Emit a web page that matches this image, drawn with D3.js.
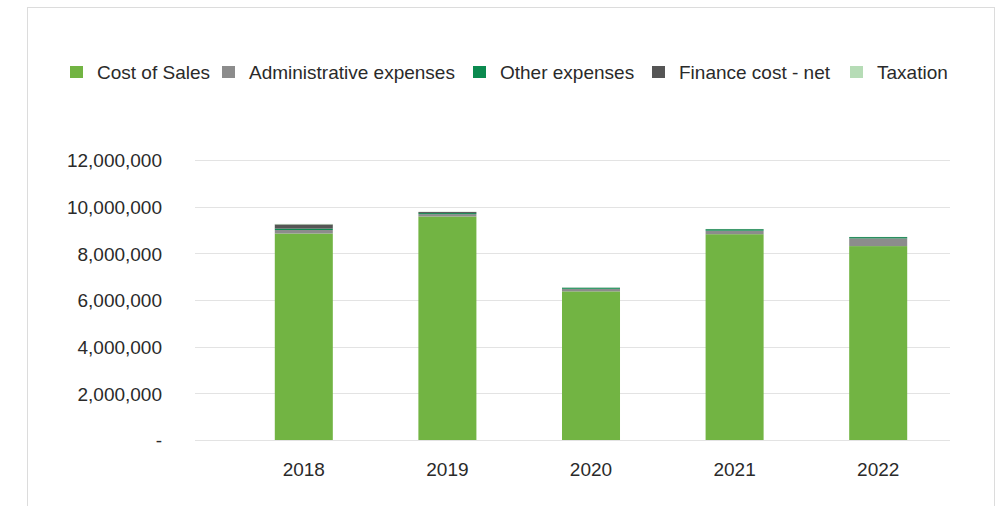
<!DOCTYPE html>
<html>
<head>
<meta charset="utf-8">
<script src="https://cdn.jsdelivr.net/npm/d3@7/dist/d3.min.js"></script>
<style>
  html, body { margin: 0; padding: 0; background: #fff; }
  svg { display: block; font-family: "Liberation Sans", Arial, Helvetica, sans-serif; }
</style>
</head>
<body>
<svg id="chart" width="1000" height="506"></svg>
<script>
// Expense breakdown by year (stacked, bottom to top)
const years = ["2018", "2019", "2020", "2021", "2022"];
const seriesNames = ["Cost of Sales", "Administrative expenses", "Other expenses", "Finance cost - net", "Taxation"];
const costOfSales = [8850000, 9580000, 6370000, 8820000, 8310000];
const adminExpenses = [150000, 100000, 110000, 150000, 330000];
const otherExpenses = [60000, 45000, 45000, 65000, 55000];
const financeCost = [180000, 45000, 5000, 5000, 5000];
const taxation = [20000, 15000, 5000, 5000, 5000];
const yTicks = [0, 2000000, 4000000, 6000000, 8000000, 10000000, 12000000];
const colors = ["#72b443", "#8c8c8c", "#0b8a4f", "#555555", "#b6dcb6"];

const seriesValues = [costOfSales, adminExpenses, otherExpenses, financeCost, taxation];
const rows = years.map((yr, i) => {
  const r = { year: yr };
  seriesNames.forEach((s, k) => { r[s] = seriesValues[k][i]; });
  return r;
});

const svg = d3.select("#chart");

// outer frame
svg.append("rect")
  .attr("x", 27.5).attr("y", 7.5)
  .attr("width", 967).attr("height", 520)
  .attr("fill", "none").attr("stroke", "#dcdcdc");

const gridLeft = 195, plotLeft = 232, plotRight = 950;
const y = d3.scaleLinear().domain([0, 12000000]).range([440, 160]);
const x = d3.scaleBand().domain(years).range([plotLeft, plotRight]).paddingInner(0.596).paddingOuter(0.298);

// gridlines
svg.append("g").selectAll("line").data(yTicks).join("line")
  .attr("x1", gridLeft).attr("x2", plotRight)
  .attr("y1", d => Math.round(y(d)) + 0.5).attr("y2", d => Math.round(y(d)) + 0.5)
  .attr("stroke", "#e3e3e3").attr("stroke-width", 1);

// y axis labels
const fmt = d3.format(",");
const yAxis = d3.axisLeft(y).tickValues(yTicks).tickSize(0).tickPadding(0)
  .tickFormat(d => d === 0 ? "-" : fmt(d));
const gy = svg.append("g").attr("transform", "translate(162,0)").call(yAxis);
gy.select(".domain").remove();
gy.selectAll("text").attr("font-size", 19).attr("fill", "#2a2a2a")
  .attr("font-family", "\"Liberation Sans\", Arial, sans-serif").attr("dy", "0.36em");

// x axis labels
const xAxis = d3.axisBottom(x).tickSize(0).tickPadding(0);
const gx = svg.append("g").attr("transform", "translate(0,462)").call(xAxis);
gx.select(".domain").remove();
gx.selectAll("text").attr("font-size", 19).attr("fill", "#2a2a2a")
  .attr("font-family", "\"Liberation Sans\", Arial, sans-serif").attr("dy", "0.71em");

// stacked bars
const stack = d3.stack().keys(seriesNames)(rows);
svg.append("g").selectAll("g").data(stack).join("g")
  .attr("fill", (d, i) => colors[i])
  .selectAll("rect").data(d => d).join("rect")
  .attr("x", d => x(d.data.year))
  .attr("width", x.bandwidth())
  .attr("y", d => y(d[1]))
  .attr("height", d => y(d[0]) - y(d[1]));

// legend
const legendX = [70, 222, 473, 652, 850];
const legend = svg.append("g").selectAll("g").data(seriesNames).join("g")
  .attr("transform", (d, i) => `translate(${legendX[i]},66)`);
legend.append("rect").attr("width", 13).attr("height", 12).attr("fill", (d, i) => colors[i]);
legend.append("text").attr("x", 27).attr("y", 6).attr("dy", "0.35em")
  .attr("font-size", 19).attr("fill", "#2a2a2a").text(d => d);
</script>
</body>
</html>
